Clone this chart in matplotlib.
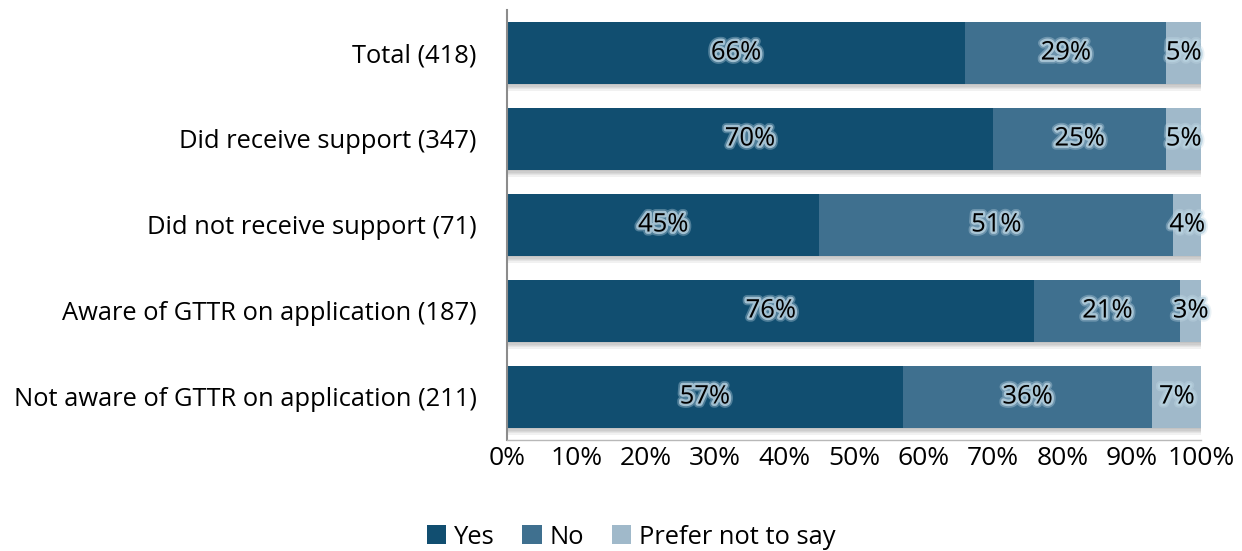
import matplotlib
matplotlib.use("Agg")
import matplotlib.pyplot as plt
import matplotlib.patheffects as pe
from matplotlib.patches import Patch
import numpy as np

plt.rcParams['font.family'] = ['Open Sans', 'DejaVu Sans']

categories = [
    "Total (418)",
    "Did receive support (347)",
    "Did not receive support (71)",
    "Aware of GTTR on application (187)",
    "Not aware of GTTR on application (211)",
]
yes = [66, 70, 45, 76, 57]
no = [29, 25, 51, 21, 36]
prefer_not = [5, 5, 4, 3, 7]
series_names = ["Yes", "No", "Prefer not to say"]
colors = ["#114e70", "#3f708f", "#a0b9ca"]
xticks = list(range(0, 101, 10))
FS = 18.4

fig = plt.figure(figsize=(12.42, 5.51), dpi=100)
ax = fig.add_axes([0.4082, 0.2015, 0.967 - 0.4082, 0.9819 - 0.2015])

y = np.arange(len(categories))
left = np.zeros(len(categories))
# soft drop shadow under each bar segment
shadow = [pe.SimplePatchShadow(offset=(0, -k), shadow_rgbFace="#404040", alpha=0.07)
          for k in (5, 4, 3, 2, 1)] + [pe.Normal()]
glow = [pe.withStroke(linewidth=6, foreground="#c4dae6", alpha=0.35),
        pe.withStroke(linewidth=3.5, foreground="#b8d2e0", alpha=0.8)]

for vals, name, col in zip([yes, no, prefer_not], series_names, colors):
    vals = np.array(vals, dtype=float)
    bars = ax.barh(y, vals, left=left, height=0.72, color=col, zorder=2)
    for b in bars:
        b.set_path_effects(shadow)
    for yi, l, v in zip(y, left, vals):
        t = ax.text(l + v / 2, yi, f"{int(v)}%", ha="center", va="center",
                    fontsize=FS, color="black", zorder=3)
        t.set_path_effects(glow)
    left = left + vals

ax.set_xlim(0, 100)
ax.set_ylim(len(categories) - 0.5, -0.5)
ax.set_yticks(y)
ax.set_yticklabels(categories, fontsize=FS)
ax.set_xticks(xticks)
ax.set_xticklabels([f"{t}%" for t in xticks], fontsize=FS + 0.6)
ax.tick_params(axis="y", length=0, pad=22)
ax.tick_params(axis="x", length=0, pad=4)
for s in ["top", "right"]:
    ax.spines[s].set_visible(False)
ax.spines["left"].set_color("#8c8c8c")
ax.spines["left"].set_linewidth(1.5)
ax.spines["bottom"].set_color("#b8b8b8")
ax.spines["bottom"].set_linewidth(1.0)

handles = [Patch(facecolor=c, edgecolor="none") for c in colors]
fig.legend(handles, series_names, loc="lower center", bbox_to_anchor=(0.508, 0.0), ncol=3,
           frameon=False, fontsize=FS, handlelength=0.75, handleheight=0.75,
           handletextpad=0.3, columnspacing=1.1, borderaxespad=0.0, borderpad=0.05)

fig.savefig("out.png", dpi=100)
